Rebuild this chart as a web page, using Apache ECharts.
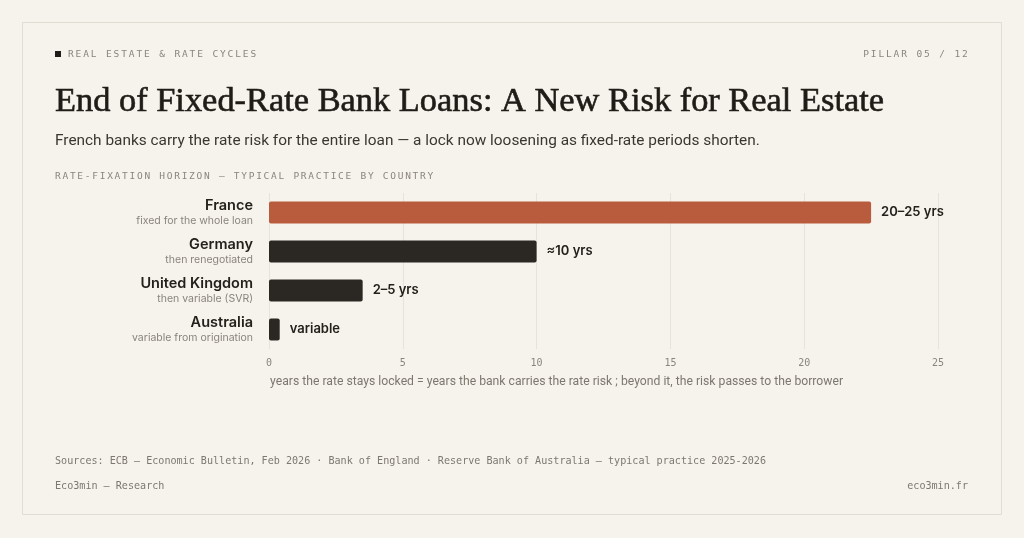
<!DOCTYPE html>
<html><head><meta charset="utf-8">
<script src="https://cdn.jsdelivr.net/npm/echarts@6/dist/echarts.min.js"></script>
<style>html,body{margin:0;padding:0;background:#f6f3ed;}#c{width:1024px;height:538px;}</style>
</head><body><div id="c"></div>
<script>
const countries = ['France', 'Germany', 'United Kingdom', 'Australia'];
const notes = ['fixed for the whole loan', 'then renegotiated', 'then variable (SVR)', 'variable from origination'];
const years = [22.5, 10, 3.5, 0.4];
const barLabels = ['20–25 yrs', '≈10 yrs', '2–5 yrs', 'variable'];
const barColors = ['#b95c3d', '#2b2723', '#2b2723', '#2b2723'];
const xTicks = [0, 5, 10, 15, 20, 25];

const MONO = '"DejaVu Sans Mono", "Liberation Mono", monospace';
const SANS = 'Inter, "Noto Sans", sans-serif';
const NARROW = 'Roboto, "Liberation Sans", sans-serif';

function spaced(text, x, y, step, style, align) {
  const chars = Array.from(text);
  let start = x;
  if (align === 'right') start = x - step * (chars.length - 1) - 6;
  return {
    type: 'group', silent: true,
    children: chars.map((ch, i) => ({
      type: 'text', x: start + i * step, y: y,
      style: Object.assign({ text: ch, textVerticalAlign: 'middle' }, style)
    }))
  };
}

const chart = echarts.init(document.getElementById('c'));
const kick = { font: '500 9.5px ' + MONO, fill: '#8a857c' };
chart.setOption({
  backgroundColor: '#f6f3ed',
  animation: false,
  grid: { left: 269, right: 86, top: 193, height: 156, containLabel: false },
  xAxis: {
    type: 'value', min: 0, max: 25, interval: 5,
    axisLine: { show: false }, axisTick: { show: false },
    splitLine: { lineStyle: { color: '#e8e3d9', width: 1 } },
    axisLabel: { margin: 9, fontFamily: MONO, fontSize: 10, color: '#8a857c',
      formatter: v => xTicks.includes(v) ? String(v) : '' }
  },
  yAxis: {
    type: 'category', data: countries, inverse: true,
    axisLine: { show: false }, axisTick: { show: false },
    axisLabel: {
      margin: 16, align: 'right',
      formatter: (v, i) => '{n|' + v + '}\n{s|' + notes[i] + '}',
      rich: {
        n: { fontFamily: SANS, fontWeight: 600, fontSize: 14.5, color: '#24201c', lineHeight: 17, align: 'right' },
        s: { fontFamily: SANS, fontSize: 10.5, color: '#8a847b', lineHeight: 14, align: 'right' }
      }
    }
  },
  series: [{
    type: 'bar', barWidth: 22,
    data: years.map((v, i) => ({ value: v, itemStyle: { color: barColors[i] } })),
    itemStyle: { borderRadius: 2 },
    label: { show: true, position: 'right', distance: 10, formatter: p => barLabels[p.dataIndex],
      fontFamily: SANS, fontWeight: 600, fontSize: 13, color: '#24201c' }
  }],
  graphic: [
    { type: 'rect', shape: { x: 22.5, y: 22.5, width: 979, height: 492 }, style: { fill: 'none', stroke: '#e2ddd2', lineWidth: 1 }, silent: true },
    { type: 'rect', shape: { x: 55, y: 51, width: 6, height: 6 }, style: { fill: '#1e1b18' }, silent: true },
    spaced('REAL ESTATE & RATE CYCLES', 68, 55, 7.6, kick, 'left'),
    spaced('PILLAR 05 / 12', 968, 55, 7.6, kick, 'right'),
    { type: 'text', x: 55, y: 102, silent: true, style: { text: 'End of Fixed-Rate Bank Loans: A New Risk for Real Estate', font: '34.4px "Liberation Serif", "DejaVu Serif", serif', fill: '#1f1b17', stroke: '#1f1b17', lineWidth: 0.6, textVerticalAlign: 'middle' } },
    { type: 'text', x: 55, y: 141, silent: true, style: { text: 'French banks carry the rate risk for the entire loan — a lock now loosening as fixed-rate periods shorten.', font: '15.4px ' + NARROW, fill: '#3a3631', textVerticalAlign: 'middle' } },
    spaced('RATE-FIXATION HORIZON — TYPICAL PRACTICE BY COUNTRY', 55, 177, 7.45, { font: '9.5px ' + MONO, fill: '#8a857c' }, 'left'),
    { type: 'text', x: 270, y: 382, silent: true, style: { text: 'years the rate stays locked = years the bank carries the rate risk ; beyond it, the risk passes to the borrower', font: '12.2px ' + NARROW, fill: '#7d776f', textVerticalAlign: 'middle' } },
    { type: 'text', x: 55, y: 461, silent: true, style: { text: 'Sources: ECB — Economic Bulletin, Feb 2026 · Bank of England · Reserve Bank of Australia — typical practice 2025-2026', font: '10.1px ' + MONO, fill: '#7d786f', textVerticalAlign: 'middle' } },
    { type: 'text', x: 55, y: 486, silent: true, style: { text: 'Eco3min — Research', font: '10.1px ' + MONO, fill: '#7d786f', textVerticalAlign: 'middle' } },
    { type: 'text', x: 968, y: 486, silent: true, style: { text: 'eco3min.fr', font: '10.1px ' + MONO, fill: '#7d786f', textVerticalAlign: 'middle', textAlign: 'right' } }
  ]
});
</script></body></html>
